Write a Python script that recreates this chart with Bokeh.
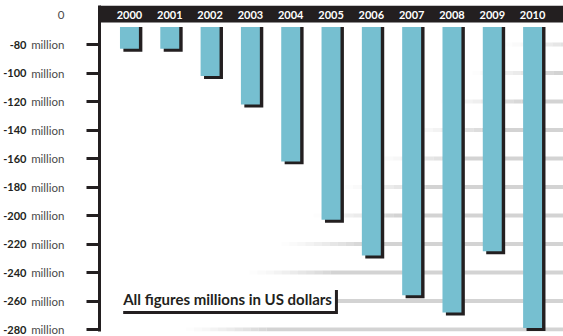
from bokeh.plotting import figure
from bokeh.models import FixedTicker, LinearAxis, Label, ColumnDataSource, Range1d
from bokeh.core.properties import value
from bokeh.embed import file_html
from bokeh.resources import INLINE

# ---- data ----
years = [2000, 2001, 2002, 2003, 2004, 2005, 2006, 2007, 2008, 2009, 2010]
balance = [-83, -83, -102, -122, -162, -203, -228, -256, -268, -225, -279]
tick_values = [-80, -100, -120, -140, -160, -180, -200, -220, -240, -260, -280]
zero_tick = -59          # where the (broken-axis) "0" label sits
note = "All figures millions in US dollars"

# ---- style ----
DARK = "#231f20"
TEAL = "#76bfd0"
GRID = "#d3d3d3"
band_top, band_bottom = -52.6, -64.6
bar_top = -67.7
bar_half = 0.235
shadow_dx, shadow_dy = 0.085, 2.1

p = figure(width=563, height=336, output_backend="svg", toolbar_location=None,
           x_range=Range1d(1999.257, 2010.767), y_range=Range1d(-281.4, band_top),
           min_border_left=98, min_border_right=0, min_border_top=5, min_border_bottom=5,
           x_axis_location=None)
p.grid.visible = False
p.outline_line_color = None
p.background_fill_color = "white"
p.border_fill_color = "white"

# faded gridlines (fade in from the left, diagonal)
gx0, gx1, gy, ga = [], [], [], []
nseg = 10
for i, v in enumerate(tick_values):
    start = 2009.3 - 0.79 * i
    step = 0.2
    for k in range(nseg):
        gx0.append(start + k * step)
        gx1.append(start + (k + 1) * step)
        gy.append(v)
        ga.append(((k + 1) / (nseg + 1)) ** 1.3)
    gx0.append(start + nseg * step)
    gx1.append(2020)
    gy.append(v)
    ga.append(1.0)
p.segment(x0="x0", y0="y", x1="x1", y1="y", line_alpha="a", line_color=GRID, line_width=4,
          source=ColumnDataSource(dict(x0=gx0, x1=gx1, y=gy, a=ga)))

# year band
p.quad(left=[1990], right=[2020], top=[band_top], bottom=[band_bottom], color=DARK, line_color=None)
p.text(x=years, y=[zero_tick] * len(years), text=[str(y) for y in years],
       text_color="white", text_font=value("Lato"), text_font_style="bold",
       text_font_size="11px", text_align="center", text_baseline="middle")

# bars with drop shadow
src = ColumnDataSource(dict(
    l=[y - bar_half for y in years], r=[y + bar_half for y in years],
    sl=[y - bar_half + shadow_dx for y in years], sr=[y + bar_half + shadow_dx for y in years],
    b=balance, sb=[b - shadow_dy for b in balance], t=[bar_top] * len(years)))
p.quad(left="sl", right="sr", top="t", bottom="sb", source=src, color=DARK, line_color=None)
p.quad(left="l", right="r", top="t", bottom="b", source=src, color=TEAL, line_color=None)

# inner axis: tick marks + "million" labels + "0"
ax = p.yaxis[0]
ax.ticker = FixedTicker(ticks=[zero_tick] + tick_values, minor_ticks=tick_values)
ax.major_label_overrides = {zero_tick: "0", **{v: "million" for v in tick_values}}
ax.major_tick_out = 0
ax.major_tick_in = 0
ax.minor_tick_out = 13
ax.minor_tick_in = 0
ax.minor_tick_line_width = 3
ax.minor_tick_line_color = DARK
ax.axis_line_width = 3
ax.axis_line_color = DARK
ax.major_label_standoff = 22
ax.major_label_text_font = "Lato"
ax.major_label_text_font_size = "11.5px"
ax.major_label_text_color = "#4a4a4a"

# outer axis: bold numbers
ax2 = LinearAxis(ticker=FixedTicker(ticks=tick_values),
                 major_label_overrides={v: str(v) for v in tick_values},
                 major_tick_out=0, major_tick_in=0, minor_tick_out=0, minor_tick_in=0,
                 axis_line_color=None, major_label_standoff=2,
                 major_label_text_font="Lato", major_label_text_font_style="bold",
                 major_label_text_font_size="11px", major_label_text_color=DARK)
p.add_layout(ax2, "left")

# note box with black bottom/right edge
common = dict(x=1999.77, y=-267.0, text=note, text_font="Lato", text_font_style="bold",
              text_font_size="15px", text_align="left", text_baseline="bottom", padding=3)
p.add_layout(Label(**common, x_offset=3, y_offset=-3, text_color=DARK,
                   background_fill_color=DARK))
p.add_layout(Label(**common, text_color=DARK, background_fill_color="white"))

open("out.html", "w").write(file_html(p, INLINE))
